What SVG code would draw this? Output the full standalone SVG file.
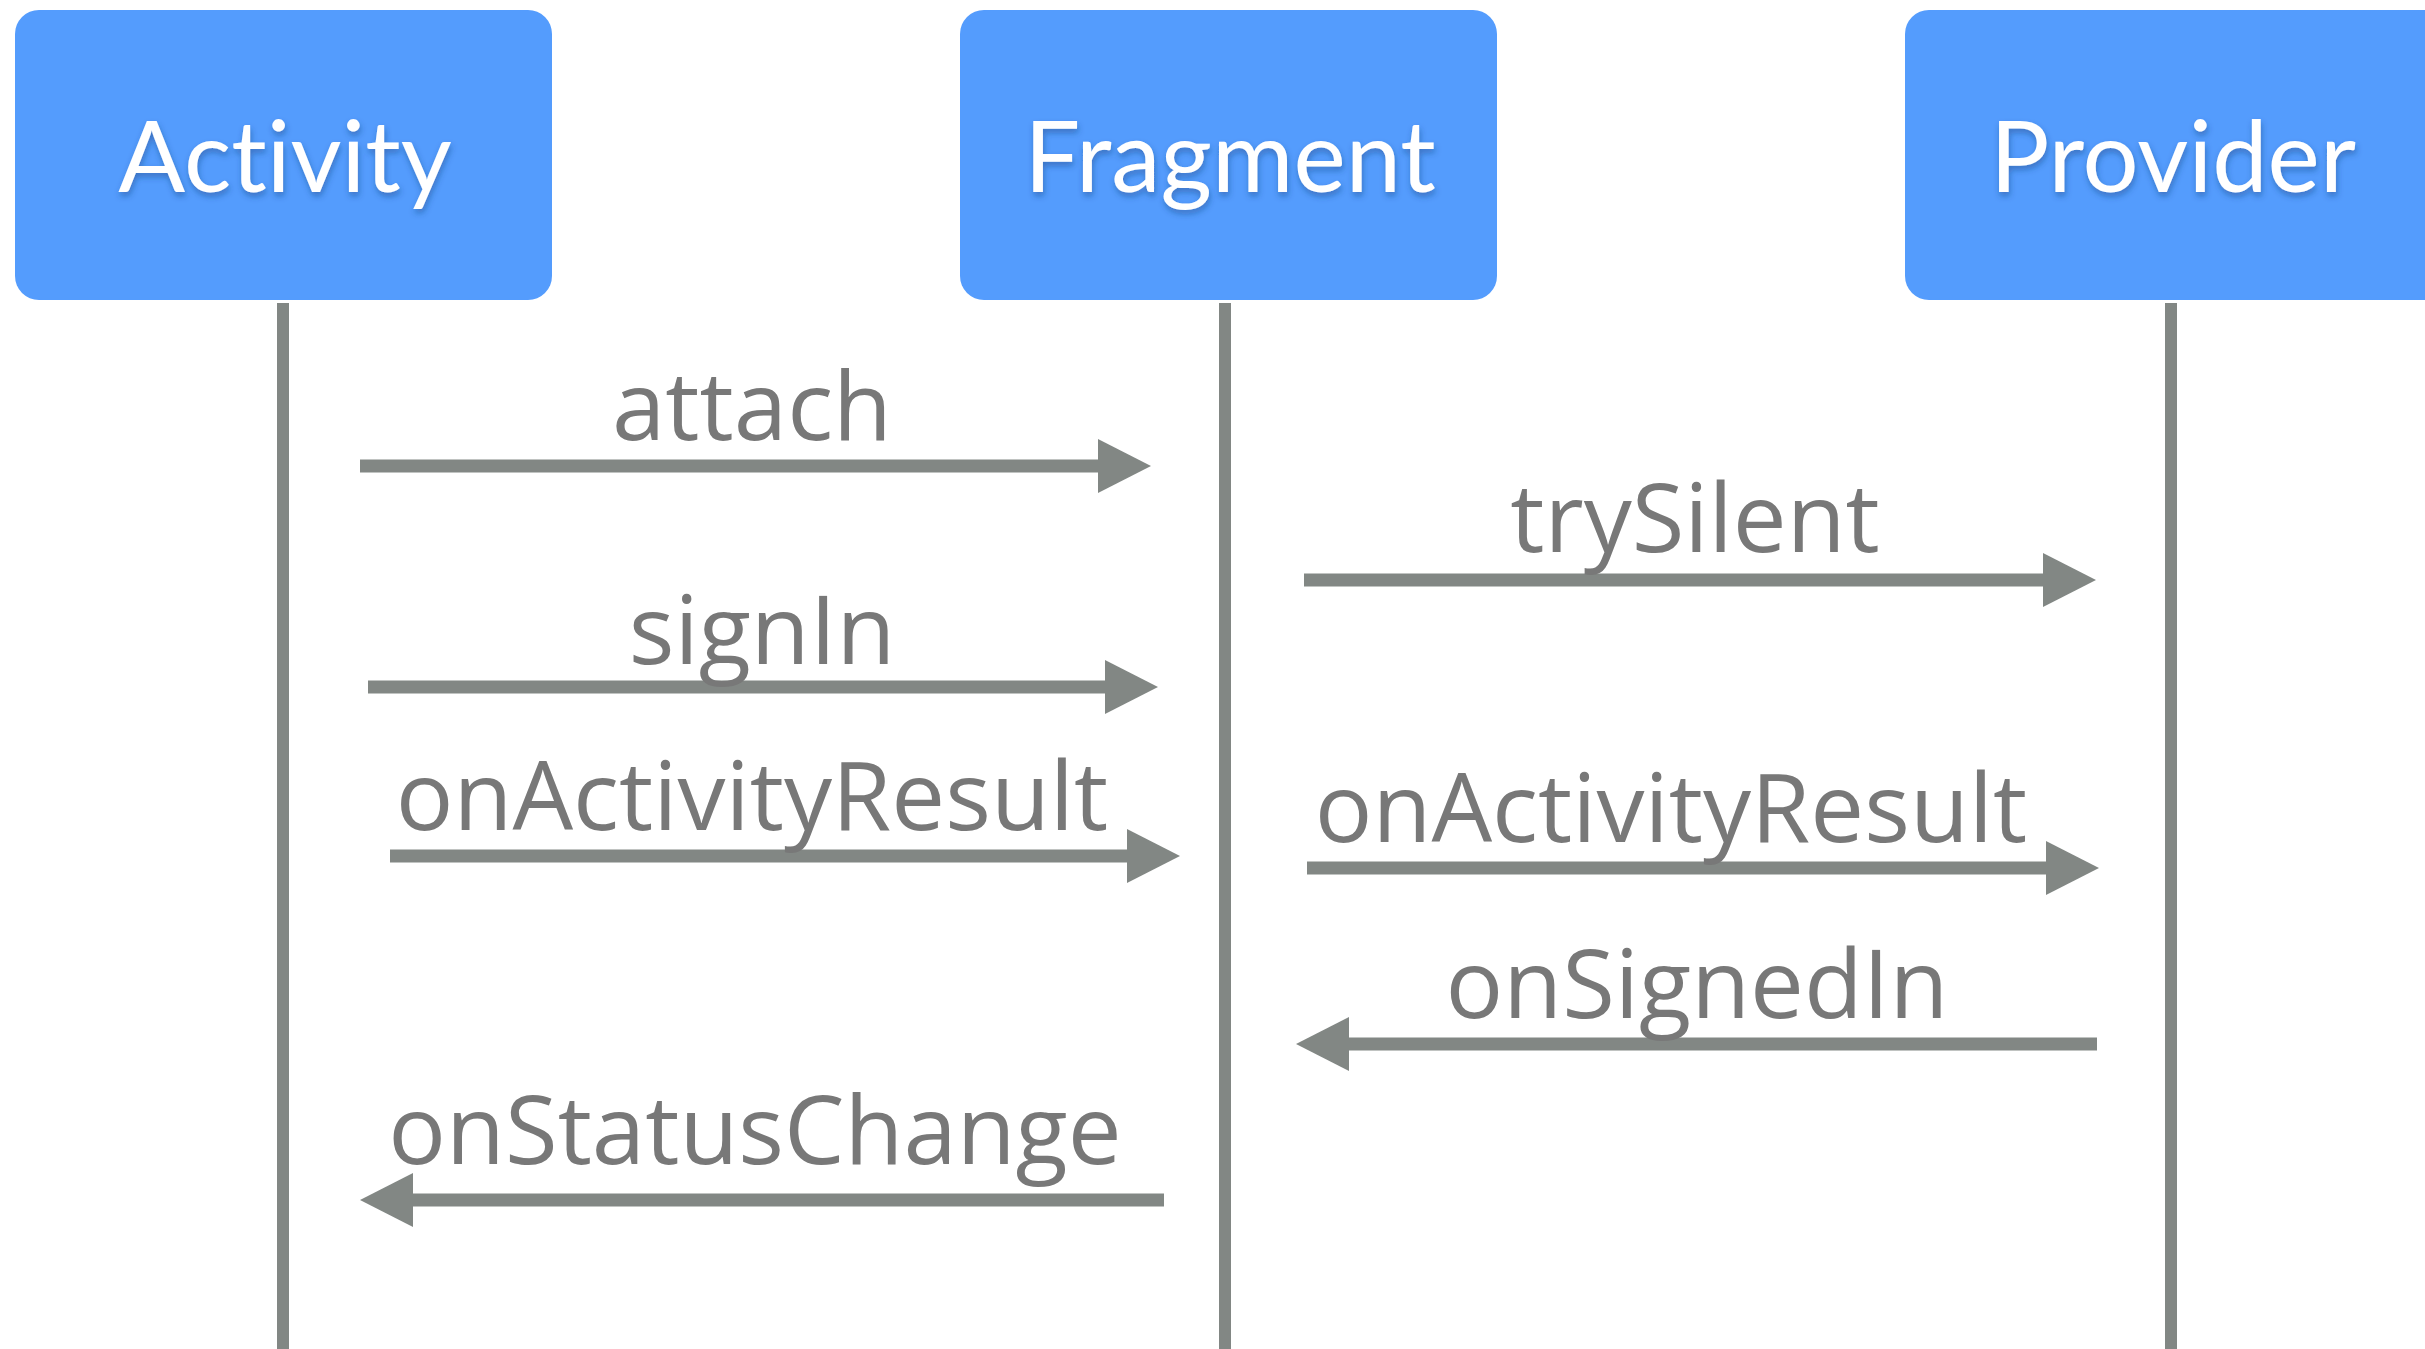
<svg xmlns="http://www.w3.org/2000/svg" width="2425" height="1349" viewBox="0 0 2425 1349">
<style>
.box{fill:#549cfd;}
.title{font-family:Lato,"Open Sans",sans-serif;font-size:99px;fill:#ffffff;text-anchor:middle;font-variant-ligatures:none;filter:url(#sh);}
.life{stroke:#828784;stroke-width:12;}
.msg{stroke:#828784;stroke-width:13;fill:none;marker-end:url(#ah);}
.lbl{font-family:"Open Sans",sans-serif;font-size:96px;fill:#787878;text-anchor:middle;}
</style>
<defs>
<marker id="ah" markerUnits="userSpaceOnUse" markerWidth="54" markerHeight="56" refX="0" refY="27" orient="auto" viewBox="0 0 54 54">
<path d="M0,0 L53,27 L0,54 z" fill="#828784"/>
</marker>
<filter id="sh" x="-10%" y="-20%" width="120%" height="150%">
<feDropShadow dx="1" dy="4" stdDeviation="3" flood-color="#1c3f7a" flood-opacity="0.45"/>
</filter>
</defs>
<rect width="2425" height="1349" fill="#ffffff"/>
<g id="activity">
<rect class="box" x="15" y="10" width="537" height="290" rx="24"/>
<line class="life" x1="283" y1="303" x2="283" y2="1349"/>
<text class="title" x="285" y="192">Activity</text>
</g>
<g id="fragment">
<rect class="box" x="960" y="10" width="537" height="290" rx="24"/>
<line class="life" x1="1225" y1="303" x2="1225" y2="1349"/>
<text class="title" x="1230" y="192">Fragment</text>
</g>
<g id="provider">
<rect class="box" x="1905" y="10" width="560" height="290" rx="24"/>
<line class="life" x1="2171" y1="303" x2="2171" y2="1349"/>
<text class="title" x="2173" y="192">Provider</text>
</g>
<g id="connectors">
<path class="msg" d="M360,466 H1098"/>
<text class="lbl" x="752" y="440">attach</text>
<path class="msg" d="M1304,580 H2043"/>
<text class="lbl" x="1695" y="552">trySilent</text>
<path class="msg" d="M368,687 H1105"/>
<text class="lbl" x="762" y="664">signIn</text>
<path class="msg" d="M390,856 H1127"/>
<text class="lbl" x="752" y="830">onActivityResult</text>
<path class="msg" d="M1307,868 H2046"/>
<text class="lbl" x="1671" y="842">onActivityResult</text>
<path class="msg" d="M2097,1044 H1349"/>
<text class="lbl" x="1697" y="1018">onSignedIn</text>
<path class="msg" d="M1164,1200 H413"/>
<text class="lbl" x="755" y="1164">onStatusChange</text>
</g>
</svg>
